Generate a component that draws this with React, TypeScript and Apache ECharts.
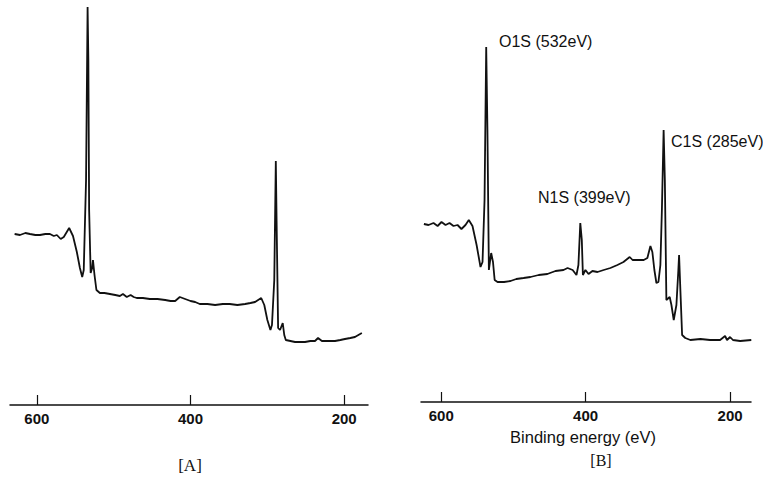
import React, { useEffect, useRef } from "react";
import * as echarts from "echarts";

// Panel A: binding energy (eV) and intensity (arbitrary units)
const energyA = [629, 622, 615, 609, 602, 596, 589, 583, 578, 574, 569, 565, 558, 553, 548, 544, 541, 539, 536, 534, 533, 532, 530, 528, 527, 525, 522.5, 518, 512, 505, 498, 492, 488, 483, 478, 474, 470, 462, 453, 443, 433, 426, 420, 414, 407, 400, 394, 388, 378, 368, 358, 349, 339, 329, 322, 316, 308, 304, 300, 296, 294, 291, 289, 288, 286, 283.5, 280, 278, 276, 270, 264, 258, 251, 244, 238, 234, 229, 220, 212, 205, 199, 192, 186, 177];
const intensityA = [171, 170, 172, 171, 170, 170, 171, 171, 169, 170, 166, 168, 177, 169, 153, 137, 128, 135, 225, 398, 345, 195, 132, 137, 145, 130, 115, 112, 112, 111, 110, 109, 111, 108, 110, 108, 107, 107, 106, 106, 105, 104, 104, 108, 106, 104, 103, 101, 101, 100, 101, 101, 100, 101, 102, 103, 107, 100, 85, 75, 80, 125, 244, 185, 77, 75, 82, 70, 65, 64, 63, 63, 63, 64, 64, 67, 64, 64, 64, 65, 66, 67, 68, 72];

// Panel B
const energyB = [624, 617.6, 610.7, 605, 599.6, 594, 588.5, 583, 577.4, 572, 566.4, 561.8, 556.7, 551, 545.6, 542.8, 540, 537.7, 536, 534, 530.8, 528.3, 526, 522, 513, 504, 496, 486, 476.4, 465, 453, 441.8, 430.7, 425, 418, 412.7, 410, 407.4, 405.3, 403.8, 400.3, 396, 390.6, 383.6, 375, 365.7, 356, 347.6, 339, 335, 328, 319.6, 314.5, 310.3, 307.6, 304.8, 302, 299.2, 296.5, 294.4, 292, 290.3, 288.2, 283.6, 281.2, 278, 274.3, 271.6, 270.6, 268.8, 266.4, 262, 255, 241, 227.7, 213.8, 206.9, 204.2, 200, 196, 186, 170.6];
const intensityB = [178, 177, 179, 176, 180, 177, 179, 176, 177, 173, 177, 182, 176, 157, 135, 140, 202, 355, 272, 132, 149, 140, 122, 120, 120, 121, 123, 124, 125, 127, 128, 131, 132, 134, 132, 127, 137, 179, 162, 127, 132, 128, 131, 130, 132, 134, 137, 140, 145, 142, 142, 142, 144, 156, 150, 132, 119, 120, 137, 192, 272, 222, 102, 105, 97, 82, 97, 132, 147, 112, 67, 64, 62, 63, 62, 62, 66, 62, 65, 62, 61, 62];

const tickValues = [600, 400, 200];
const peakLabels = ["O1S (532eV)", "N1S (399eV)", "C1S (285eV)"];
const xAxisName = "Binding energy (eV)";
const panelNames = ["[A]", "[B]"];

const SANS = "Liberation Sans, Arial, sans-serif";
const SERIF = "Liberation Serif, Times New Roman, serif";

function zip(xs: number[], ys: number[]) {
  return xs.map((x, i) => [x, ys[i]]);
}

export default function App() {
  const ref = useRef<HTMLDivElement>(null);
  useEffect(() => {
    if (!ref.current) return;
    const chart = echarts.init(ref.current, null, { renderer: "svg" });
    const xAxisCommon = (min: number, max: number, gridIndex: number) => ({
      type: "value",
      gridIndex,
      min,
      max,
      inverse: true,
      splitLine: { show: false },
      axisLine: { show: true, lineStyle: { color: "#111", width: 1.5 } },
      axisTick: {
        show: true,
        inside: true,
        length: 10,
        customValues: tickValues,
        lineStyle: { color: "#111", width: 1.2 },
      },
      axisLabel: {
        show: true,
        customValues: tickValues,
        margin: 6,
        color: "#111",
        fontFamily: SANS,
        fontSize: 15,
        fontWeight: "bold",
      },
    });
    const yAxisCommon = (gridIndex: number) => ({
      type: "value",
      gridIndex,
      min: 0,
      max: 400,
      show: false,
      splitLine: { show: false },
    });
    const txt = (text: string, x: number, y: number, size: number, family: string, align = "left") => ({
      type: "text",
      x,
      y,
      style: { text, fontSize: size, fontFamily: family, fill: "#111", align, verticalAlign: "middle" },
    });
    chart.setOption({
      animation: false,
      backgroundColor: "#fff",
      grid: [
        { left: 10, width: 358, top: 5, height: 400 },
        { left: 421, width: 330, top: 2, height: 400 },
      ],
      xAxis: [xAxisCommon(169, 635, 0), xAxisCommon(171, 628, 1)],
      yAxis: [yAxisCommon(0), yAxisCommon(1)],
      series: [
        {
          type: "line",
          xAxisIndex: 0,
          yAxisIndex: 0,
          data: zip(energyA, intensityA),
          showSymbol: false,
          lineStyle: { color: "#111", width: 1.8 },
        },
        {
          type: "line",
          xAxisIndex: 1,
          yAxisIndex: 1,
          data: zip(energyB, intensityB),
          showSymbol: false,
          lineStyle: { color: "#111", width: 1.8 },
        },
      ],
      graphic: [
        txt(peakLabels[0], 499, 41, 16, SANS),
        txt(peakLabels[1], 538, 197, 16, SANS),
        txt(peakLabels[2], 671, 141, 16, SANS),
        txt(xAxisName, 583, 437, 16.5, SANS, "center"),
        txt(panelNames[0], 190, 465, 17, SERIF, "center"),
        txt(panelNames[1], 601, 460, 16, SERIF, "center"),
      ],
    });
    return () => chart.dispose();
  }, []);
  return (
    <div
      ref={ref}
      style={{ position: "fixed", left: 0, top: 0, width: 763, height: 480 }}
    />
  );
}
